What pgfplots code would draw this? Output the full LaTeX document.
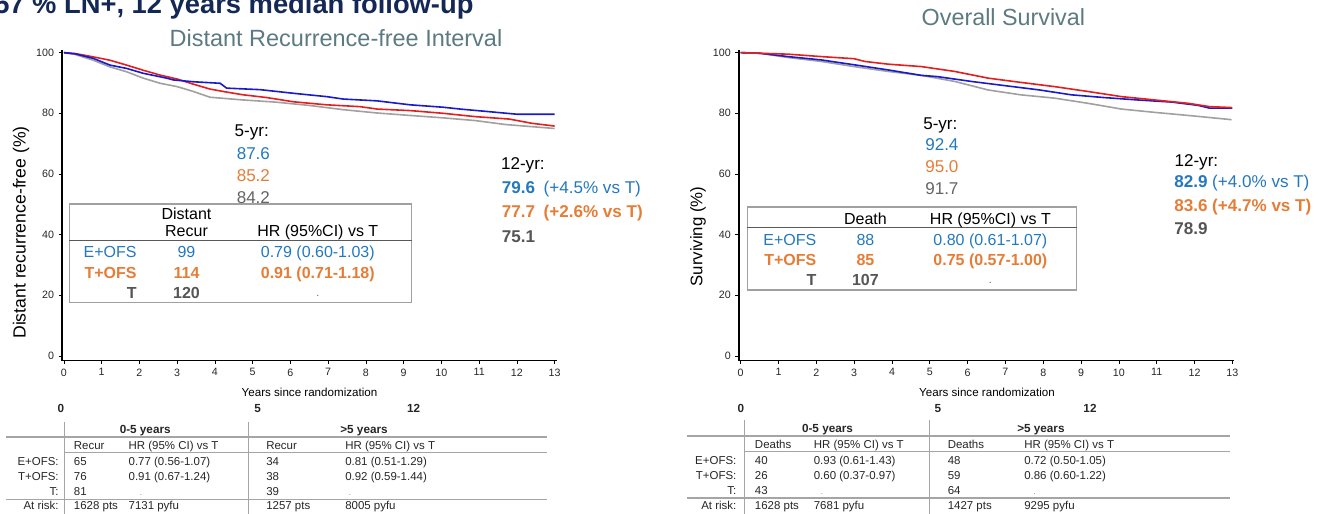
\documentclass[border=0pt]{standalone}
\usepackage{pgfplots}
\pgfplotsset{compat=1.18}
\usepackage{fontspec}
\setmainfont{Liberation Sans}
\definecolor{cblue}{RGB}{25,25,205}
\definecolor{cred}{RGB}{228,30,30}
\definecolor{cgray}{RGB}{160,160,160}
\definecolor{tblue}{RGB}{35,120,190}
\definecolor{torange}{RGB}{230,125,55}
\definecolor{tgray}{RGB}{100,100,100}
\definecolor{tgrayb}{RGB}{85,85,85}
\definecolor{ttl}{RGB}{92,122,130}
\definecolor{navy}{RGB}{20,40,85}
\definecolor{boxc}{RGB}{160,160,160}
\definecolor{linec}{RGB}{165,165,165}
\newcommand\fs[1]{\fontsize{#1}{#1}\selectfont}
\pgfplotsset{kmaxis/.style={
  scale only axis, height=233.2pt,
  xmin=-0.05, xmax=13.05, ymin=-1.5, ymax=101,
  axis lines=left, axis line style={-, line width=1.1pt, black},
  xtick={0,...,13}, ytick={0,20,...,100},
  tick align=outside, major tick length=2.5pt,
  tick style={black, line width=0.5pt},
  ticklabel style={font=\fs{8}, text=black!85},
  /pgf/number format/assume math mode=true,
  clip=false,
}}
\begin{document}
\begin{tikzpicture}
\path[use as bounding box] (0,0) rectangle (988.5pt,385.5pt);
\clip (0,0) rectangle (988.5pt,385.5pt);
% left axis
\begin{axis}[kmaxis, width=370.9pt, at={(46.5pt,115.09pt)}, anchor=south west]
\addplot[cgray, line width=1.2pt] coordinates {(0,100) (0.3,99.4) (0.78,97.5) (1.22,95.3) (1.66,93.7) (2.1,91.6) (2.55,89.9) (3.0,88.8) (3.43,87.2) (3.87,85.3) (4.75,84.4) (5.6,83.7) (6.5,82.6) (7.4,81.2) (8.3,80.1) (9.17,79.3) (10.05,78.5) (10.9,77.6) (11.7,76.3) (13.0,75.0)};
\addplot[cred, line width=1.2pt] coordinates {(0,100) (0.3,99.7) (0.78,98.6) (1.22,97.5) (1.66,95.9) (2.1,94.2) (2.55,92.6) (3.0,91.3) (3.43,89.6) (3.87,88.0) (4.31,87.0) (4.75,86.1) (5.37,85.2) (6.08,83.8) (6.96,82.8) (7.84,82.2) (8.3,81.4) (9.17,80.9) (10.05,80.0) (10.9,78.9) (11.8,78.1) (12.4,76.7) (13.0,75.8)};
\addplot[cblue, line width=1.2pt] coordinates {(0,100) (0.3,99.6) (0.78,98.1) (1.22,95.9) (1.66,94.8) (2.1,93.2) (2.72,91.6) (2.9,91.0) (3.43,90.4) (4.14,89.9) (4.31,88.3) (5.2,87.8) (6.08,86.6) (6.96,85.5) (7.4,84.7) (8.3,84.1) (9.17,82.8) (10.05,82.0) (10.5,81.4) (11.3,80.5) (12.0,79.7) (13.0,79.7)};
\end{axis}
% right axis
\begin{axis}[kmaxis, width=371.6pt, at={(554.1pt,115.09pt)}, anchor=south west]
\addplot[cgray, line width=1.2pt] coordinates {(0,100) (0.5,99.8) (1.25,98.4) (2.13,97.1) (3.0,95.4) (3.9,93.8) (4.78,92.5) (5.66,90.5) (6.54,87.7) (7.4,86.1) (8.3,85.0) (9.18,83.3) (10.07,81.4) (10.95,80.3) (11.83,79.3) (12.98,77.9)};
\addplot[cblue, line width=1.2pt] coordinates {(0,100) (0.5,99.8) (1.25,98.7) (2.13,97.6) (3.0,96.0) (3.9,94.3) (4.78,92.5) (5.2,92.1) (6.1,90.5) (7.0,89.1) (7.9,87.7) (8.74,86.1) (9.6,85.2) (10.5,84.4) (11.4,83.7) (12.1,82.6) (12.4,81.7) (13.0,81.7)};
\addplot[cred, line width=1.2pt] coordinates {(0,100) (1.25,99.5) (2.13,98.7) (3.0,98.0) (3.28,97.1) (3.9,96.2) (4.78,95.4) (5.66,93.8) (6.54,91.6) (7.4,90.2) (8.3,88.8) (9.18,87.2) (10.07,85.5) (10.95,84.4) (11.83,83.3) (12.4,82.2) (12.98,81.9)};
\end{axis}
\begin{scope}[yshift=385.5pt, x=0.75pt, y=-0.75pt]
% titles
\node[anchor=base west, font=\fs{20.5}\bfseries, text=navy, inner sep=0] at (-6,13.5) {57 \% LN+, 12 years median follow-up};
\node[anchor=base, font=\fs{17.6}, text=ttl, inner sep=0] at (336,46.7) {Distant Recurrence-free Interval};
\node[anchor=base, font=\fs{17.5}, text=ttl, inner sep=0] at (1003.4,26) {Overall Survival};
\node[rotate=90, font=\fs{13.2}] at (21,232.5) {Distant recurrence-free (\%)};
\node[rotate=90, font=\fs{12.6}] at (698,236.5) {Surviving (\%)};
\node[anchor=base, font=\fs{8.7}, inner sep=0] at (309.5,397) {Years since randomization};
\node[anchor=base, font=\fs{8.7}, inner sep=0] at (987,397) {Years since randomization};
% left annotations
\begin{scope}[every node/.style={anchor=base west, inner sep=0, font=\fs{12.8}}]
\node at (234.4,137) {5-yr:};
\node[text=tblue] at (236.5,159.3) {87.6};
\node[text=torange] at (236.5,181.5) {85.2};
\node[text=tgray] at (236.5,203.5) {84.2};
\node at (500.8,170) {12-yr:};
\node[text=tblue] at (501.7,194) {\textbf{79.6}\enspace(+4.5\% vs T)};
\node[text=torange] at (501.7,217.3) {\textbf{77.7\enspace(+2.6\% vs T)}};
\node[text=tgrayb] at (501.7,243) {\textbf{75.1}};
% right annotations
\node at (923,130) {5-yr:};
\node[text=tblue] at (925,150.7) {92.4};
\node[text=torange] at (925,172.7) {95.0};
\node[text=tgray] at (925,195) {91.7};
\node at (1174.3,166.7) {12-yr:};
\node[text=tblue] at (1174,187.7) {\textbf{82.9} (+4.0\% vs T)};
\node[text=torange] at (1174,211.7) {\textbf{83.6 (+4.7\% vs T)}};
\node[text=tgrayb] at (1174,235) {\textbf{78.9}};
\end{scope}
% left inner box
\draw[boxc, line width=0.8pt] (69.4,204) rectangle (411.6,302.3);
\draw[black!65, line width=1.1pt] (69.4,240.3) -- (411.6,240.3);
\begin{scope}[every node/.style={inner sep=0, font=\fs{12}}]
\node[anchor=base] at (186.5,219.3) {Distant};
\node[anchor=base] at (186.5,236.7) {Recur};
\node[anchor=base] at (317.8,236.7) {HR (95\%CI) vs T};
\node[anchor=base east, text=tblue] at (136.8,257.3) {E+OFS};
\node[anchor=base, text=tblue] at (186.5,257.3) {99};
\node[anchor=base, text=tblue] at (317.8,257.3) {0.79 (0.60-1.03)};
\node[anchor=base east, text=torange, font=\fs{12}\bfseries] at (136.8,278.3) {T+OFS};
\node[anchor=base, text=torange, font=\fs{12}\bfseries] at (186.5,278.3) {114};
\node[anchor=base, text=torange, font=\fs{12}\bfseries] at (317.8,278.3) {0.91 (0.71-1.18)};
\node[anchor=base east, text=tgrayb, font=\fs{12}\bfseries] at (136.8,299) {T};
\node[anchor=base, text=tgrayb, font=\fs{12}\bfseries] at (186.5,299) {120};
\node[anchor=base, text=tgray, font=\fs{8}] at (317.8,297) {.};
\end{scope}
% right inner box
\draw[boxc, line width=0.8pt] (747.1,207) rectangle (1076.7,290);
\draw[black!65, line width=1.1pt] (747.1,227.7) -- (1076.7,227.7);
\begin{scope}[every node/.style={inner sep=0, font=\fs{12}}]
\node[anchor=base] at (865.4,225) {Death};
\node[anchor=base] at (990.4,225) {HR (95\%CI) vs T};
\node[anchor=base east, text=tblue] at (816.6,245.7) {E+OFS};
\node[anchor=base, text=tblue] at (865.4,245.7) {88};
\node[anchor=base, text=tblue] at (990.4,245.7) {0.80 (0.61-1.07)};
\node[anchor=base east, text=torange, font=\fs{12}\bfseries] at (816.6,266) {T+OFS};
\node[anchor=base, text=torange, font=\fs{12}\bfseries] at (865.4,266) {85};
\node[anchor=base, text=torange, font=\fs{12}\bfseries] at (990.4,266) {0.75 (0.57-1.00)};
\node[anchor=base east, text=tgrayb, font=\fs{12}\bfseries] at (816.6,286) {T};
\node[anchor=base, text=tgrayb, font=\fs{12}\bfseries] at (865.4,286) {107};
\node[anchor=base, text=tgray, font=\fs{8}] at (990.4,284) {.};
\end{scope}
% left bottom table
\draw[linec, line width=0.7pt] (64,421.7) -- (64,516) (248.3,421.7) -- (248.3,516);
\draw[linec, line width=1.6pt] (6.3,436.7) -- (547,436.7);
\draw[linec, line width=0.7pt] (64,452.3) -- (547,452.3);
\draw[linec, line width=0.9pt] (6.3,499.3) -- (547,499.3);
\begin{scope}[every node/.style={inner sep=0, font=\fs{8.6}, text=black!85}]
\node[anchor=base, font=\fs{8.8}\bfseries] at (61,412.7) {0};
\node[anchor=base, font=\fs{8.8}\bfseries] at (257.6,412.7) {5};
\node[anchor=base, font=\fs{8.8}\bfseries] at (413.7,412.7) {12};
\node[anchor=base, font=\fs{8.8}\bfseries] at (145.2,433.3) {0-5 years};
\node[anchor=base, font=\fs{8.8}\bfseries] at (364,433.3) {>5 years};
\node[anchor=base west] at (73.7,450) {Recur};
\node[anchor=base west] at (128.4,450) {HR (95\% CI) vs T};
\node[anchor=base west] at (266,450) {Recur};
\node[anchor=base west] at (345,450) {HR (95\% CI) vs T};
\node[anchor=base east] at (58.9,466) {E+OFS:};
\node[anchor=base west] at (73.7,466) {65};
\node[anchor=base west] at (128.4,466) {0.77 (0.56-1.07)};
\node[anchor=base west] at (266,466) {34};
\node[anchor=base west] at (345,466) {0.81 (0.51-1.29)};
\node[anchor=base east] at (58.9,481) {T+OFS:};
\node[anchor=base west] at (73.7,481) {76};
\node[anchor=base west] at (128.4,481) {0.91 (0.67-1.24)};
\node[anchor=base west] at (266,481) {38};
\node[anchor=base west] at (345,481) {0.92 (0.59-1.44)};
\node[anchor=base east] at (58.9,495.3) {T:};
\node[anchor=base west] at (73.7,495.3) {81};
\node[anchor=base, font=\fs{6}, text=black!50] at (141,495.3) {.};
\node[anchor=base west] at (266,495.3) {39};
\node[anchor=base, font=\fs{6}, text=black!50] at (350,495.3) {.};
\node[anchor=base east] at (58.9,510) {At risk:};
\node[anchor=base west] at (73.7,510) {1628 pts};
\node[anchor=base west] at (128.4,510) {7131 pyfu};
\node[anchor=base west] at (266,510) {1257 pts};
\node[anchor=base west] at (345,510) {8005 pyfu};
\end{scope}
% right bottom table
\draw[linec, line width=0.7pt] (744.2,420) -- (744.2,516) (929.4,420) -- (929.4,516);
\draw[linec, line width=1.6pt] (687.4,436) -- (1230.3,436);
\draw[linec, line width=0.7pt] (744.2,451) -- (1230.3,451);
\draw[linec, line width=0.9pt] (687.4,498) -- (1230.3,498);
\begin{scope}[every node/.style={inner sep=0, font=\fs{8.6}, text=black!85}]
\node[anchor=base, font=\fs{8.8}\bfseries] at (740.8,412.7) {0};
\node[anchor=base, font=\fs{8.8}\bfseries] at (937.8,412.7) {5};
\node[anchor=base, font=\fs{8.8}\bfseries] at (1090,412.7) {12};
\node[anchor=base, font=\fs{8.8}\bfseries] at (827.5,432.3) {0-5 years};
\node[anchor=base, font=\fs{8.8}\bfseries] at (1040.9,432.3) {>5 years};
\node[anchor=base west] at (754.7,449) {Deaths};
\node[anchor=base west] at (813.6,449) {HR (95\% CI) vs T};
\node[anchor=base west] at (947.5,449) {Deaths};
\node[anchor=base west] at (1024,449) {HR (95\% CI) vs T};
\node[anchor=base east] at (736.6,464.3) {E+OFS:};
\node[anchor=base west] at (754.7,464.3) {40};
\node[anchor=base west] at (813.6,464.3) {0.93 (0.61-1.43)};
\node[anchor=base west] at (947.5,464.3) {48};
\node[anchor=base west] at (1024,464.3) {0.72 (0.50-1.05)};
\node[anchor=base east] at (736.6,479.3) {T+OFS:};
\node[anchor=base west] at (754.7,479.3) {26};
\node[anchor=base west] at (813.6,479.3) {0.60 (0.37-0.97)};
\node[anchor=base west] at (947.5,479.3) {59};
\node[anchor=base west] at (1024,479.3) {0.86 (0.60-1.22)};
\node[anchor=base east] at (736.6,494.3) {T:};
\node[anchor=base west] at (754.7,494.3) {43};
\node[anchor=base, font=\fs{6}, text=black!50] at (822,494.3) {.};
\node[anchor=base west] at (947.5,494.3) {64};
\node[anchor=base, font=\fs{6}, text=black!50] at (1034.6,494.3) {.};
\node[anchor=base east] at (736.6,510) {At risk:};
\node[anchor=base west] at (754.7,510) {1628 pts};
\node[anchor=base west] at (813.6,510) {7681 pyfu};
\node[anchor=base west] at (947.5,510) {1427 pts};
\node[anchor=base west] at (1024,510) {9295 pyfu};
\end{scope}
\end{scope}
\end{tikzpicture}
\end{document}
